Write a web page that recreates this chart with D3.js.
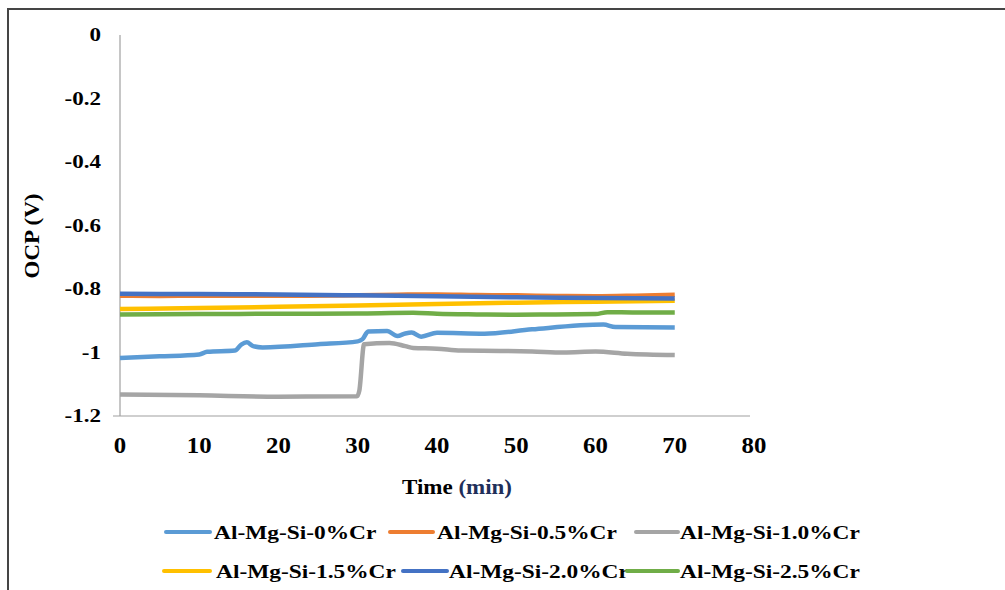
<!DOCTYPE html>
<html lang="en">
<head>
<meta charset="UTF-8">
<title>OCP vs Time</title>
<script src="https://d3js.org/d3.v7.min.js"></script>
<style>
  body { margin: 0; background: #fff; }
  svg { font-family: "Liberation Serif", "Times New Roman", serif; font-weight: bold; }
</style>
</head>
<body>
<div id="chart"></div>
<script>
// series names (legend order)
var seriesNames = ["Al-Mg-Si-0%Cr", "Al-Mg-Si-0.5%Cr", "Al-Mg-Si-1.0%Cr",
                   "Al-Mg-Si-1.5%Cr", "Al-Mg-Si-2.0%Cr", "Al-Mg-Si-2.5%Cr"];
var seriesColors = ["#5B9BD5", "#ED7D31", "#A5A5A5", "#FFC000", "#4472C4", "#70AD47"];

// time (min) and OCP (V)
var t0  = [0, 5, 10, 11, 14.5, 15.3, 16, 16.8, 18, 25, 30, 30.6, 31.3, 33.7, 35, 36, 36.8, 38, 40, 46, 52, 61, 62.5, 70];
var v0  = [-1.017, -1.012, -1.006, -0.998, -0.994, -0.975, -0.968, -0.980, -0.984, -0.974, -0.965, -0.958, -0.934, -0.932, -0.948, -0.940, -0.937, -0.950, -0.938, -0.941, -0.927, -0.912, -0.920, -0.921];

var t05 = [0, 5, 10, 20, 30, 35, 40, 45, 50, 55, 60, 65, 70];
var v05 = [-0.821, -0.822, -0.821, -0.821, -0.820, -0.818, -0.817, -0.819, -0.820, -0.822, -0.823, -0.821, -0.818];

var t10 = [0, 10, 20, 29.9, 30.2, 30.8, 34, 36, 37, 40, 43, 48, 52, 56, 60, 64, 70];
var v10 = [-1.132, -1.135, -1.139, -1.138, -1.12, -0.974, -0.970, -0.980, -0.986, -0.988, -0.994, -0.995, -0.997, -1.000, -0.997, -1.004, -1.008];

var t15 = [0, 10, 20, 30, 40, 50, 60, 70];
var v15 = [-0.863, -0.860, -0.856, -0.852, -0.847, -0.843, -0.840, -0.837];

var t20 = [0, 10, 20, 30, 40, 50, 60, 70];
var v20 = [-0.815, -0.816, -0.817, -0.820, -0.823, -0.826, -0.828, -0.830];

var t25 = [0, 10, 20, 30, 37, 40, 45, 50, 55, 60, 61.5, 65, 70];
var v25 = [-0.880, -0.879, -0.878, -0.877, -0.875, -0.878, -0.880, -0.881, -0.880, -0.879, -0.873, -0.874, -0.874];

var xTicks = [0, 10, 20, 30, 40, 50, 60, 70, 80];
var yTicks = [0, -0.2, -0.4, -0.6, -0.8, -1, -1.2];

var times = [t0, t05, t10, t15, t20, t25];
var values = [v0, v05, v10, v15, v20, v25];

var width = 1005, height = 590;

var svg = d3.select("#chart").append("svg")
    .attr("width", width)
    .attr("height", height);

// outer frame (top and left edges only visible)
svg.append("path")
    .attr("d", "M8,590 L8,9 L1005,9")
    .attr("fill", "none")
    .attr("stroke", "#454545")
    .attr("stroke-width", 2);

var x = d3.scaleLinear().domain([0, 80]).range([120, 754]);
var y = d3.scaleLinear().domain([-1.2, 0]).range([416, 35]);

// axes
svg.append("line")
    .attr("x1", x(0)).attr("x2", x(0))
    .attr("y1", y(0)).attr("y2", y(-1.2))
    .attr("stroke", "#A0A0A0").attr("stroke-width", 1.2);
svg.append("line")
    .attr("x1", x(0) - 7).attr("x2", x(80) - 4)
    .attr("y1", y(-1.2)).attr("y2", y(-1.2))
    .attr("stroke", "#A0A0A0").attr("stroke-width", 1.2);

// glyphs in the picture are drawn wider than normal, so text gets a scaleX
function stretchedText(px, py, str, anchor, size, sx, rot) {
    var g = svg.append("g")
        .attr("transform", "translate(" + px + "," + py + ")" + (rot ? " rotate(" + rot + ")" : "") + " scale(" + sx + ",1)");
    return g.append("text")
        .attr("text-anchor", anchor)
        .attr("dominant-baseline", "central")
        .attr("font-size", size)
        .attr("fill", "#000")
        .text(str);
}

yTicks.forEach(function(d) {
    stretchedText(101, y(d), String(d), "end", 19.5, 1.18);
});
xTicks.forEach(function(d) {
    stretchedText(x(d), 445, String(d), "middle", 23, 1.08);
});

// axis titles
var tt = stretchedText(457, 488, "", "middle", 20, 1.15);
tt.append("tspan").text("Time ");
tt.append("tspan").attr("fill", "#1F2F5A").text("(min)");
stretchedText(33, 236, "OCP (V)", "middle", 20, 1.15, -90);

// data lines
var line = d3.line()
    .x(function(d) { return x(d[0]); })
    .y(function(d) { return y(d[1]); })
    .curve(d3.curveMonotoneX);

times.forEach(function(ts, i) {
    var pts = ts.map(function(t, j) { return [t, values[i][j]]; });
    svg.append("path")
        .datum(pts)
        .attr("d", line)
        .attr("fill", "none")
        .attr("stroke", seriesColors[i])
        .attr("stroke-width", 4.5)
        .attr("stroke-linejoin", "round");
});

// legend
var legendPos = [
    {x1: 166, x2: 210, tx: 214, y: 532},
    {x1: 390, x2: 433, tx: 437, y: 532},
    {x1: 636, x2: 678, tx: 680, y: 532},
    {x1: 164, x2: 210, tx: 216, y: 571},
    {x1: 403, x2: 447, tx: 449, y: 571},
    {x1: 627, x2: 678, tx: 680, y: 571}
];
seriesNames.forEach(function(name, i) {
    var p = legendPos[i];
    svg.append("line")
        .attr("x1", p.x1).attr("x2", p.x2)
        .attr("y1", p.y).attr("y2", p.y)
        .attr("stroke", seriesColors[i])
        .attr("stroke-width", 4)
        .attr("stroke-linecap", "round");
    stretchedText(p.tx, p.y + 1, name, "start", 18, 1.3);
});
</script>
</body>
</html>
